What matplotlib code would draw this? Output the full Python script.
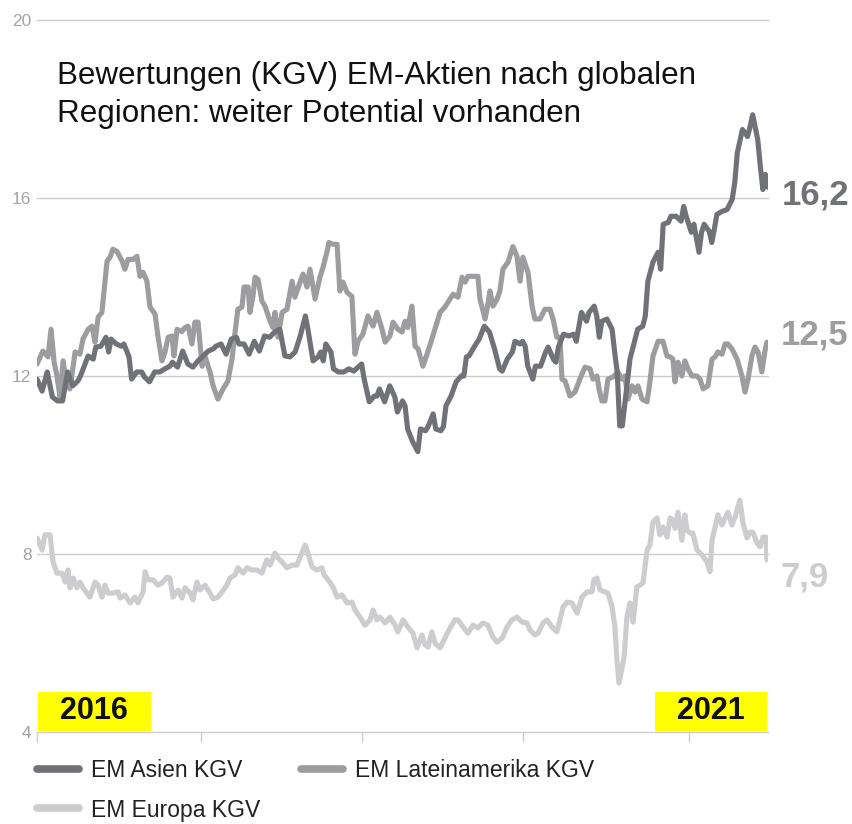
import matplotlib
matplotlib.use("Agg")
import matplotlib.pyplot as plt
from matplotlib.patches import Rectangle
from matplotlib.lines import Line2D

plt.rcParams['font.family'] = ['Liberation Sans', 'DejaVu Sans']

# ---------------- data (week index since start of 2016, KGV) ----------------
TITLE = "Bewertungen (KGV) EM-Aktien nach globalen\nRegionen: weiter Potential vorhanden"
SERIES_NAMES = ["EM Asien KGV", "EM Lateinamerika KGV", "EM Europa KGV"]
END_LABELS = ["16,2", "12,5", "7,9"]
YEAR_LABELS = ["2016", "2021"]
Y_TICKS = [4, 8, 12, 16, 20]
X_TICKS = [0, 64, 127, 190, 255]

ASIA_WEEK = [0, 2, 4, 6, 8, 10, 12, 14, 16, 17,
             20, 22, 23, 25, 27, 28, 29, 31, 33, 34,
             36, 37, 39, 41, 42, 44, 46, 48, 50, 52,
             53, 55, 57, 59, 61, 63, 65, 67, 69, 70,
             72, 74, 76, 78, 79, 81, 83, 85, 87, 89,
             91, 93, 95, 97, 99, 101, 103, 105, 106, 108,
             110, 111, 112, 113, 115, 116, 118, 120, 122, 124,
             126, 127, 128, 130, 132, 133, 134, 136, 138, 140,
             141, 143, 144, 145, 147, 149, 150, 152, 153, 155,
             156, 158, 159, 160, 162, 164, 166, 167, 168, 169,
             171, 173, 175, 177, 179, 181, 182, 184, 186, 187,
             189, 190, 191, 192, 194, 195, 197, 199, 200, 202,
             203, 204, 206, 208, 210, 211, 213, 215, 216, 218,
             219, 220, 221, 223, 225, 226, 227, 228, 229, 231,
             232, 234, 235, 237, 238, 239, 241, 243, 244, 245,
             247, 248, 250, 252, 253, 254, 256, 257, 259, 260,
             261, 263, 264, 265, 266, 268, 270, 272, 273, 274,
             276, 278, 279, 280, 282, 283, 284, 285, 286]
ASIA_KGV = [11.93, 11.66, 12.09, 11.53, 11.44, 11.44, 12.09, 11.78, 11.89, 12.0,
            12.45, 12.38, 12.65, 12.67, 12.87, 12.54, 12.83, 12.72, 12.67, 12.72,
            12.43, 11.93, 12.09, 12.09, 11.98, 11.87, 12.09, 12.09, 12.16, 12.22,
            12.31, 12.2, 12.56, 12.27, 12.2, 12.34, 12.45, 12.56, 12.61, 12.67,
            12.72, 12.49, 12.83, 12.87, 12.72, 12.72, 12.49, 12.78, 12.56, 12.9,
            12.87, 12.99, 13.05, 12.45, 12.43, 12.54, 12.9, 13.35, 13.05, 12.34,
            12.43, 12.54, 12.34, 12.72, 12.54, 12.16, 12.09, 12.09, 12.16, 12.11,
            12.22, 12.27, 11.93, 11.42, 11.55, 11.55, 11.71, 11.42, 11.78, 11.53,
            11.19, 11.44, 11.33, 10.81, 10.52, 10.3, 10.81, 10.77, 10.86, 11.15,
            10.81, 10.77, 10.86, 11.33, 11.55, 11.87, 12.0, 12.0, 12.43, 12.45,
            12.65, 12.83, 13.12, 12.99, 12.61, 12.16, 12.11, 12.38, 12.54, 12.78,
            12.72, 12.78, 12.67, 12.22, 11.93, 12.22, 12.22, 12.54, 12.65, 12.38,
            12.31, 12.65, 12.94, 12.9, 12.94, 12.78, 13.43, 13.23, 13.43, 13.57,
            13.35, 12.87, 13.23, 13.28, 13.05, 12.54, 12.09, 10.88, 10.88, 11.87,
            12.38, 12.83, 13.05, 13.12, 13.35, 14.13, 14.56, 14.78, 14.4, 15.41,
            15.45, 15.59, 15.59, 15.48, 15.81, 15.59, 15.23, 15.41, 14.78, 15.23,
            15.41, 15.25, 15.0, 15.3, 15.63, 15.7, 15.74, 15.97, 16.35, 17.02,
            17.54, 17.38, 17.61, 17.87, 17.31, 16.71, 16.19, 16.53, 16.24]

LAT_WEEK = [0.0, 2.3, 4.3, 5.5, 6.7, 7.8, 9.0, 10.2, 11.7, 12.9,
            14.9, 16.8, 18.0, 20.0, 21.5, 22.7, 23.9, 25.4, 26.6, 27.4,
            28.6, 29.7, 31.3, 33.3, 34.4, 35.6, 37.6, 39.1, 40.3, 41.5,
            43.0, 44.2, 46.2, 47.3, 48.9, 50.1, 51.3, 52.8, 53.6, 54.8,
            56.7, 57.9, 59.1, 60.6, 61.8, 63.0, 64.6, 65.7, 67.7, 68.9,
            70.8, 72.8, 74.7, 76.3, 77.5, 78.6, 80.2, 81.0, 82.6, 83.3,
            84.5, 85.3, 86.5, 88.0, 89.2, 91.2, 92.3, 93.1, 94.3, 95.9,
            97.8, 99.8, 100.9, 102.9, 104.1, 105.6, 106.8, 108.8, 110.7, 111.9,
            113.5, 114.2, 115.8, 117.4, 118.5, 119.7, 121.3, 123.2, 124.4, 125.6,
            127.5, 129.5, 131.5, 133.0, 135.0, 136.2, 138.1, 139.3, 141.2, 142.8,
            144.0, 145.1, 146.7, 147.9, 149.1, 151.0, 152.6, 154.5, 156.5, 157.7,
            159.6, 161.6, 162.8, 164.7, 166.3, 167.5, 168.6, 170.6, 172.5, 173.3,
            175.3, 176.4, 177.2, 178.4, 180.0, 181.1, 182.3, 184.3, 186.2, 187.8,
            189.0, 190.1, 192.1, 193.7, 194.8, 196.8, 198.7, 200.7, 201.9, 203.4,
            204.6, 205.4, 206.6, 208.5, 210.5, 212.4, 214.4, 216.4, 217.5, 219.1,
            219.9, 221.0, 222.2, 223.4, 225.4, 227.3, 228.9, 230.0, 231.2, 232.8,
            234.0, 235.1, 236.7, 238.7, 239.8, 241.0, 243.0, 244.9, 246.5, 247.7,
            248.8, 249.6, 250.8, 252.3, 253.5, 254.7, 256.3, 258.2, 259.4, 260.6,
            262.5, 264.1, 265.3, 266.4, 268.0, 269.2, 270.3, 271.9, 273.9, 275.8,
            277.0, 278.2, 279.7, 280.9, 282.1, 283.6, 284.8, 285.6]
LAT_KGV = [12.27, 12.56, 12.43, 13.05, 12.31, 12.0, 11.53, 12.34, 11.78, 11.71,
           12.54, 12.49, 12.83, 13.05, 13.12, 12.76, 13.32, 13.43, 14.11, 14.58,
           14.67, 14.85, 14.8, 14.58, 14.4, 14.62, 14.62, 14.69, 14.24, 14.33,
           14.13, 13.55, 13.39, 12.9, 12.34, 12.54, 12.87, 12.9, 12.45, 13.05,
           13.0, 13.09, 13.12, 12.72, 13.21, 13.21, 12.22, 12.45, 12.09, 11.78,
           11.48, 11.71, 11.89, 12.38, 12.99, 13.5, 13.55, 14.0, 14.0, 13.43,
           13.79, 14.22, 14.17, 13.68, 13.57, 13.23, 13.09, 13.43, 12.87, 13.43,
           13.5, 14.13, 13.77, 14.11, 14.29, 14.0, 14.4, 13.73, 14.22, 14.44,
           14.8, 15.0, 14.96, 14.96, 13.91, 14.11, 13.88, 13.79, 12.49, 12.78,
           12.94, 13.35, 13.12, 13.43, 13.05, 12.76, 12.9, 13.21, 13.05, 12.99,
           13.23, 13.09, 13.57, 12.67, 12.61, 12.22, 12.49, 12.83, 13.21, 13.43,
           13.55, 13.73, 13.84, 13.77, 14.22, 14.11, 14.24, 14.24, 14.24, 13.73,
           13.28, 13.61, 13.91, 13.57, 13.73, 13.91, 14.4, 14.56, 14.91, 14.69,
           14.13, 14.67, 14.33, 13.57, 13.28, 13.28, 13.5, 13.5, 13.28, 12.87,
           12.87, 11.93, 11.89, 11.55, 11.64, 11.93, 12.2, 12.16, 11.93, 12.0,
           11.71, 11.44, 11.44, 11.93, 11.98, 12.09, 11.93, 12.0, 11.48, 11.78,
           11.64, 11.78, 11.48, 11.42, 11.87, 12.45, 12.78, 12.78, 12.45, 12.43,
           12.38, 11.87, 12.31, 12.0, 12.34, 12.16, 12.0, 12.0, 11.93, 11.71,
           11.78, 12.38, 12.43, 12.54, 12.49, 12.72, 12.72, 12.61, 12.38, 12.0,
           11.64, 11.93, 12.45, 12.65, 12.54, 12.09, 12.56, 12.76]

EU_WEEK = [0.0, 2.0, 3.1, 5.1, 6.3, 7.8, 9.8, 11.0, 12.1, 12.9,
           14.1, 15.6, 16.8, 18.0, 20.7, 22.7, 23.9, 25.4, 26.6, 27.8,
           29.7, 31.7, 32.5, 34.4, 36.4, 38.3, 39.5, 41.5, 42.3, 43.4,
           45.4, 47.3, 48.9, 50.9, 52.0, 53.2, 55.2, 56.7, 57.9, 59.9,
           61.0, 62.6, 63.8, 65.7, 67.7, 68.9, 70.8, 72.4, 74.3, 75.5,
           77.5, 78.6, 80.6, 82.2, 84.1, 86.1, 88.0, 89.9, 91.2, 93.1,
           94.3, 95.9, 97.8, 99.8, 101.7, 102.9, 104.9, 106.0, 107.6, 109.5,
           111.5, 112.3, 113.9, 115.8, 117.4, 119.3, 121.3, 123.2, 124.4, 126.4,
           128.3, 130.3, 131.5, 133.0, 134.2, 136.2, 138.1, 140.1, 141.2, 143.2,
           145.1, 147.1, 148.7, 150.6, 151.8, 153.0, 154.5, 155.7, 157.7, 159.6,
           161.6, 163.5, 164.7, 166.7, 168.6, 170.6, 172.5, 174.5, 176.4, 178.4,
           180.0, 182.0, 183.9, 185.8, 187.8, 189.8, 191.7, 192.9, 194.8, 196.0,
           198.0, 199.5, 201.5, 203.4, 204.6, 205.8, 207.4, 209.3, 211.3, 213.2,
           215.2, 217.1, 217.9, 219.1, 220.3, 222.2, 223.4, 225.0, 226.1, 226.9,
           227.7, 228.9, 229.7, 230.8, 232.0, 233.2, 234.7, 235.9, 237.1, 238.7,
           239.8, 241.0, 242.6, 243.7, 244.9, 246.5, 247.7, 248.8, 249.6, 250.8,
           252.3, 253.5, 254.3, 255.5, 256.6, 258.2, 260.2, 262.1, 263.3, 264.1,
           265.3, 266.4, 268.0, 269.2, 270.3, 271.9, 273.1, 275.0, 276.2, 277.8,
           278.9, 280.1, 281.7, 282.9, 284.0, 285.2, 285.6]
EU_KGV = [8.36, 8.09, 8.43, 8.43, 7.82, 7.57, 7.57, 7.37, 7.64, 7.24,
          7.46, 7.24, 7.37, 7.24, 7.03, 7.37, 7.3, 7.03, 7.3, 7.12,
          7.12, 7.15, 7.01, 7.08, 6.9, 7.03, 6.9, 7.15, 7.6, 7.42,
          7.42, 7.3, 7.35, 7.48, 7.46, 7.03, 7.19, 7.01, 7.24, 7.12,
          6.97, 7.37, 7.19, 7.3, 7.12, 6.99, 7.03, 7.15, 7.3, 7.46,
          7.53, 7.69, 7.57, 7.69, 7.64, 7.64, 7.57, 7.87, 7.75, 8.02,
          7.91, 7.82, 7.69, 7.75, 7.75, 7.93, 8.2, 8.02, 7.71, 7.64,
          7.69, 7.53, 7.42, 7.26, 7.03, 7.08, 6.9, 6.92, 6.74, 6.58,
          6.4, 6.52, 6.74, 6.52, 6.58, 6.45, 6.58, 6.4, 6.25, 6.52,
          6.36, 6.22, 5.89, 6.18, 5.96, 5.91, 6.25, 6.0, 5.89, 6.11,
          6.34, 6.52, 6.52, 6.36, 6.22, 6.4, 6.34, 6.45, 6.4, 6.13,
          6.02, 6.11, 6.36, 6.52, 6.58, 6.47, 6.45, 6.29, 6.18, 6.22,
          6.45, 6.52, 6.36, 6.25, 6.52, 6.81, 6.92, 6.9, 6.67, 7.03,
          7.15, 7.15, 7.42, 7.46, 7.19, 7.15, 7.12, 6.81, 6.36, 5.62,
          5.1, 5.46, 5.69, 6.58, 6.9, 6.47, 7.26, 7.3, 7.35, 8.09,
          8.2, 8.72, 8.81, 8.43, 8.61, 8.38, 8.81, 8.76, 8.58, 8.94,
          8.31, 8.88, 8.54, 8.47, 8.47, 8.09, 7.98, 7.82, 7.6, 8.31,
          8.61, 8.88, 8.65, 8.81, 8.94, 8.65, 8.83, 9.21, 8.7, 8.36,
          8.49, 8.49, 8.25, 8.16, 8.38, 8.38, 7.87]

# ---------------- style ----------------
C_ASIA = "#707277"
C_LAT = "#9d9c9f"
C_EU = "#cdcdcf"
GRID = "#cccccc"
W, H = 852, 824

fig = plt.figure(figsize=(W / 100, H / 100), dpi=100)
ax = fig.add_axes([37 / W, 1 - 732 / H, 731 / W, 712 / H])
ax.set_xlim(0, 286)
ax.set_ylim(4, 20)

ax.set_yticks(Y_TICKS)
ax.set_yticklabels([str(t) for t in Y_TICKS])
ax.set_xticks(X_TICKS)
ax.tick_params(axis='x', length=7, width=1, color=GRID, labelbottom=False)
ax.tick_params(axis='y', length=0, pad=4, labelsize=12.5, labelcolor='#a3a3a3')
ax.grid(axis='y', color=GRID, lw=1)
for gl in ax.get_ygridlines():
    gl.set_clip_on(False)
for s in ax.spines.values():
    s.set_visible(False)
ax.set_axisbelow(True)

lw = 3.7
kw = dict(lw=lw, solid_capstyle='round', solid_joinstyle='round')
ax.plot(EU_WEEK, EU_KGV, color=C_EU, zorder=3, **kw)
ax.plot(LAT_WEEK, LAT_KGV, color=C_LAT, zorder=4, **kw)
ax.plot(ASIA_WEEK, ASIA_KGV, color=C_ASIA, zorder=5, **kw)

# end labels
ends = [(ASIA_WEEK[-1], ASIA_KGV[-1], END_LABELS[0], C_ASIA, -5.5),
        (LAT_WEEK[-1], LAT_KGV[-1], END_LABELS[1], C_LAT, 5.0),
        (EU_WEEK[-1], EU_KGV[-1], END_LABELS[2], C_EU, -12.5)]
for x, y, txt, c, dy in ends:
    ax.annotate(txt, xy=(x, y), xytext=(10, dy), textcoords='offset points',
                ha='left', va='center', fontsize=25, fontweight='bold',
                color=c, annotation_clip=False)

# year boxes
boxes = [(0.0014, YEAR_LABELS[0]), (0.845, YEAR_LABELS[1])]
for x0, txt in boxes:
    ax.add_patch(Rectangle((x0, 0.0014), 0.154, 0.0548, transform=ax.transAxes,
                           facecolor='#ffff00', edgecolor='none', zorder=6, clip_on=False))
    ax.text(x0 + 0.077, 0.0014 + 0.0274, txt, transform=ax.transAxes,
            ha='center', va='center', fontsize=22, fontweight='bold',
            color='#111111', zorder=7)

# title
fig.text(57 / W, 1 - 61 / H, TITLE, ha='left', va='top', fontsize=22.6,
         color='#111111', linespacing=1.36)

# legend
handles = [Line2D([], [], color=C_ASIA, lw=5.5, solid_capstyle='round'),
           Line2D([], [], color=C_EU, lw=5.5, solid_capstyle='round'),
           Line2D([], [], color=C_LAT, lw=5.5, solid_capstyle='round')]
labels = [SERIES_NAMES[0], SERIES_NAMES[2], SERIES_NAMES[1]]
fig.legend(handles, labels, ncol=2, loc='upper left',
           bbox_to_anchor=(37 / W, 1 - 759 / H), bbox_transform=fig.transFigure,
           frameon=False, fontsize=16.5, borderpad=0, borderaxespad=0,
           handlelength=1.85, handletextpad=0.52, columnspacing=1.75,
           labelspacing=0.72, labelcolor='#222222')

fig.savefig("out.png", dpi=100)
